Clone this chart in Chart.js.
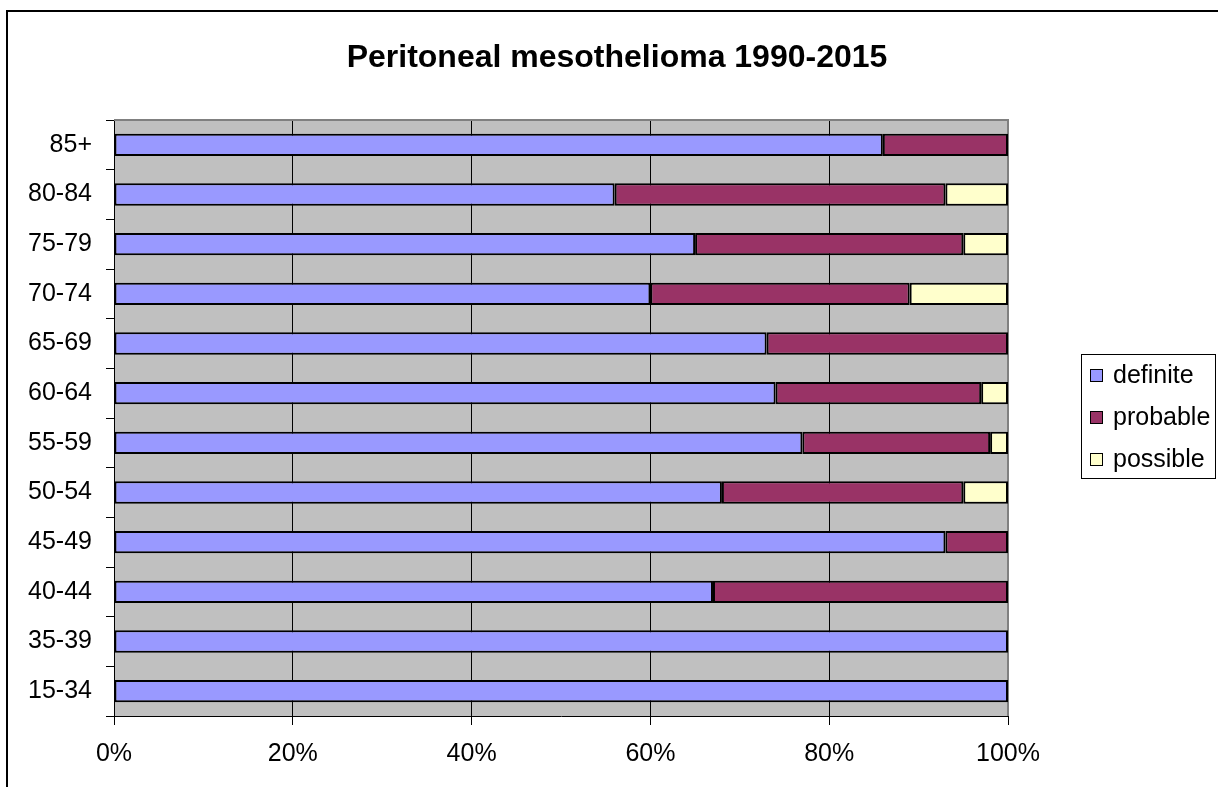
<!DOCTYPE html>
<html>
<head>
<meta charset="utf-8">
<script src="https://cdn.jsdelivr.net/npm/chart.js@4/dist/chart.umd.min.js"></script>
<style>
  body { margin: 0; background: #fff; }
  #wrap { width: 1218px; height: 787px; position: relative; }
</style>
</head>
<body>
<div id="wrap"><canvas id="chart"></canvas></div>
<script>
// values, top row first
const ageGroups = ['85+', '80-84', '75-79', '70-74', '65-69', '60-64', '55-59', '50-54', '45-49', '40-44', '35-39', '15-34'];
const definite = [86, 56, 65, 60, 73, 74, 77, 68, 93, 67, 100, 100];
const probable = [14, 37, 30, 29, 27, 23, 21, 27, 7, 33, 0, 0];
const possible = [0, 7, 5, 11, 0, 3, 2, 5, 0, 0, 0, 0];
const xTicks = [0, 20, 40, 60, 80, 100];
const chartTitle = 'Peritoneal mesothelioma 1990-2015';

const FONT = 'Arial, "Liberation Sans", sans-serif';

const excelLook = {
    id: 'excelLook',
    beforeDraw(chart) {
        const { ctx, chartArea: a } = chart;
        ctx.save();
        ctx.fillStyle = '#c0c0c0';
        ctx.fillRect(a.left, a.top, a.right - a.left, a.bottom - a.top);
        ctx.restore();
    },
    beforeDatasetsDraw(chart) {
        const { ctx, chartArea: a } = chart;
        ctx.save();
        ctx.strokeStyle = '#808080';
        ctx.lineWidth = 2;
        ctx.beginPath();
        ctx.moveTo(a.left, a.top);
        ctx.lineTo(a.right, a.top);
        ctx.lineTo(a.right, a.bottom);
        ctx.stroke();
        ctx.restore();
    },
    afterDraw(chart) {
        const { ctx, chartArea: a } = chart;
        ctx.save();
        // outer frame (runs off the right and bottom edges)
        ctx.strokeStyle = '#000';
        ctx.lineWidth = 2;
        ctx.beginPath();
        ctx.moveTo(7, chart.height);
        ctx.lineTo(7, 11);
        ctx.lineTo(chart.width, 11);
        ctx.stroke();

        // title, centred on the whole frame
        ctx.fillStyle = '#000';
        ctx.font = 'bold 32px ' + FONT;
        ctx.textAlign = 'center';
        ctx.textBaseline = 'alphabetic';
        ctx.fillText(chartTitle, 617, 67);

        // legend
        const lx = a.right + 73, ly = 354;
        ctx.lineWidth = 1;
        ctx.strokeRect(lx + 0.5, ly + 0.5, 134, 124);
        ctx.font = '25px ' + FONT;
        ctx.textBaseline = 'middle';
        ctx.textAlign = 'left';
        chart.data.datasets.forEach((ds, i) => {
            const cy = ly + 21 + i * 42;
            ctx.fillStyle = ds.backgroundColor;
            ctx.fillRect(lx + 9, cy - 6, 13, 13);
            ctx.strokeStyle = '#000';
            ctx.strokeRect(lx + 9.5, cy - 5.5, 12, 12);
            ctx.fillStyle = '#000';
            ctx.fillText(ds.label, lx + 32, cy + 1);
        });
        ctx.restore();
    }
};

const barStyle = { borderColor: '#000', borderWidth: 2, borderSkipped: false, barPercentage: 0.45, categoryPercentage: 1 };

new Chart(document.getElementById('chart'), {
    type: 'bar',
    data: {
        labels: ageGroups,
        datasets: [
            { label: 'definite', data: definite, backgroundColor: '#9999ff', ...barStyle },
            { label: 'probable', data: probable, backgroundColor: '#993366', ...barStyle },
            { label: 'possible', data: possible, backgroundColor: '#ffffcc', ...barStyle },
        ],
    },
    options: {
        indexAxis: 'y',
        responsive: true,
        maintainAspectRatio: false,
        animation: false,
        layout: { padding: { top: 120, right: 210, bottom: 4, left: 0 } },
        plugins: {
            legend: { display: false },
            tooltip: { enabled: false },
            title: { display: false },
        },
        scales: {
            x: {
                stacked: true,
                min: 0,
                max: 100,
                afterBuildTicks: (scale) => { scale.ticks = xTicks.map(v => ({ value: v })); },
                ticks: {
                    color: '#000',
                    padding: 14,
                    maxRotation: 0,
                    font: { family: FONT, size: 25 },
                    callback: (v) => v + '%',
                },
                grid: { color: '#000', lineWidth: 1, tickLength: 9 },
                border: { color: '#000', width: 1 },
            },
            y: {
                stacked: true,
                afterFit: (scale) => { scale.width = 114; },
                ticks: {
                    color: '#000',
                    padding: 14,
                    font: { family: FONT, size: 25 },
                },
                grid: { display: true, drawOnChartArea: false, offset: true, color: '#000', tickLength: 8 },
                border: { color: '#000', width: 1 },
            },
        },
    },
    plugins: [excelLook],
});
</script>
</body>
</html>
